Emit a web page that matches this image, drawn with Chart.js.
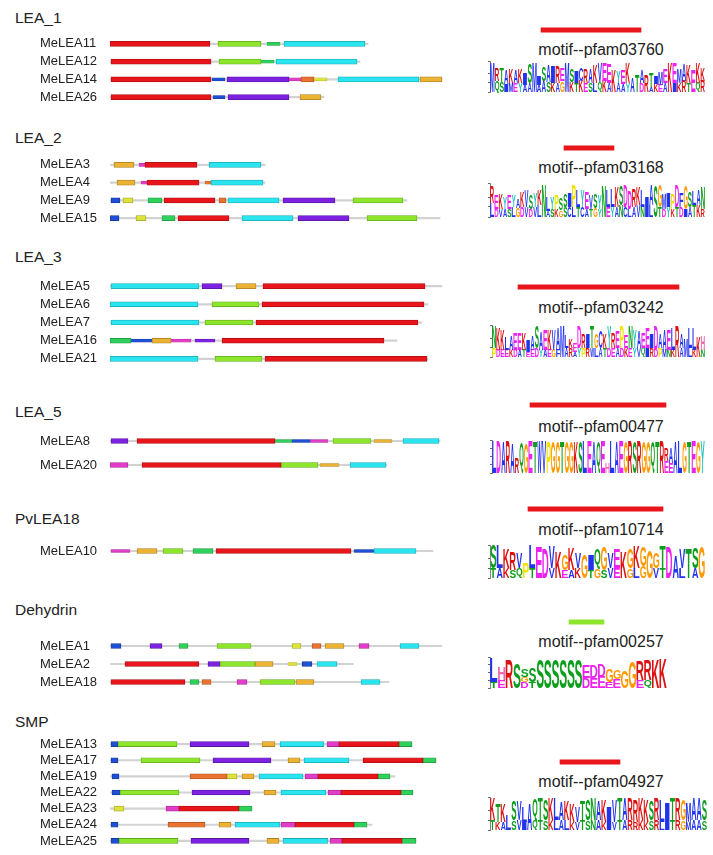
<!DOCTYPE html>
<html>
<head>
<meta charset="utf-8">
<script src="https://cdn.jsdelivr.net/npm/chart.js@4.4.0/dist/chart.umd.min.js"></script>
<style>
  body { margin: 0; background: #fff; }
  #page { position: relative; width: 713px; height: 855px; overflow: hidden; font-family: Arial, "Liberation Sans", sans-serif; }
  canvas { position: absolute; }
  .head { position: absolute; left: 15px; font-size: 15.5px; line-height: 20px; color: #222; }
  .motif { position: absolute; left: 470px; width: 262px; text-align: center; font-size: 16px; line-height: 20px; color: #222; }
</style>
</head>
<body>
<div id="page"></div>
<script>
// Domain colours (MEME motif colours in the gene diagrams)
const domainColors = {
  R: '#e8151b', L: '#8ee62c', C: '#2ae5ef', P: '#7c22e0', B: '#1e4fd4',
  O: '#ecb233', M: '#e23dc7', G: '#2fd15c', Y: '#dde23c', N: '#ea7330'
};
const domainEdges = {
  R: '#a80f12', L: '#5fa81c', C: '#1aa8b0', P: '#55179e', B: '#143894',
  O: '#a87f22', M: '#a12a8e', G: '#20963f', Y: '#9ea328', N: '#a85222'
};

// Amino-acid colours used in the logos
const aaColors = {
  A: '#2233ee', C: '#2233ee', F: '#2233ee', I: '#2233ee', L: '#2233ee', M: '#2233ee', V: '#2233ee', W: '#2233ee',
  N: '#0c9e1c', Q: '#0c9e1c', S: '#0c9e1c', T: '#0c9e1c',
  D: '#ee22ee', E: '#ee22ee', K: '#dd1111', R: '#dd1111',
  H: '#f06ab0', G: '#ff9900', P: '#f2e200', Y: '#20c0c0'
};

// ---- gene groups (x in residue units from N-terminus) ----
// motif key in upper case = strong hit, lower case = weak (partial) hit
const groupNames = ['LEA_1', 'LEA_2', 'LEA_3', 'LEA_5', 'PvLEA18', 'Dehydrin', 'SMP'];

const lea1Genes = ['MeLEA11', 'MeLEA12', 'MeLEA14', 'MeLEA26'];
const lea1Lengths = [258, 250, 332, 214];
const lea1Domains = [
  [[0, 100, 'R'], [108, 151, 'L'], [157, 170, 'g'], [174, 255, 'C']],
  [[1, 101, 'R'], [109, 151, 'L'], [151, 164, 'g'], [166, 247, 'C']],
  [[1, 101, 'R'], [102, 115, 'b'], [117, 179, 'P'], [179, 191, 'm'], [191, 204, 'N'], [204, 217, 'y'], [228, 309, 'C'], [310, 332, 'O']],
  [[1, 101, 'R'], [103, 115, 'b'], [118, 179, 'P'], [190, 211, 'O']]
];

const lea2Genes = ['MeLEA3', 'MeLEA4', 'MeLEA9', 'MeLEA15'];
const lea2Lengths = [155, 155, 297, 330];
const lea2Domains = [
  [[4, 24, 'O'], [29, 35, 'm'], [35, 87, 'R'], [99, 151, 'C']],
  [[7, 25, 'O'], [31, 37, 'm'], [37, 89, 'R'], [95, 101, 'n'], [101, 153, 'C']],
  [[1, 10, 'B'], [13, 23, 'Y'], [38, 52, 'G'], [54, 105, 'R'], [109, 116, 'N'], [118, 169, 'C'], [173, 225, 'P'], [243, 293, 'L']],
  [[0, 9, 'B'], [26, 36, 'Y'], [52, 65, 'G'], [68, 119, 'R'], [132, 183, 'C'], [188, 239, 'P'], [257, 307, 'L']]
];

const lea3Genes = ['MeLEA5', 'MeLEA6', 'MeLEA7', 'MeLEA16', 'MeLEA21'];
const lea3Lengths = [332, 318, 312, 287, 318];
const lea3Domains = [
  [[1, 89, 'C'], [92, 112, 'P'], [126, 146, 'O'], [153, 315, 'R']],
  [[0, 88, 'C'], [0, 20, 'm'], [102, 149, 'L'], [152, 314, 'R']],
  [[1, 89, 'C'], [95, 143, 'L'], [146, 308, 'R']],
  [[0, 21, 'G'], [21, 42, 'b'], [42, 61, 'O'], [61, 81, 'm'], [85, 105, 'p'], [112, 274, 'R']],
  [[0, 88, 'C'], [105, 152, 'L'], [155, 317, 'R']]
];

const lea5Genes = ['MeLEA8', 'MeLEA20'];
const lea5Lengths = [330, 277];
const lea5Domains = [
  [[1, 18, 'P'], [27, 165, 'R'], [165, 182, 'g'], [182, 200, 'b'], [200, 218, 'm'], [223, 261, 'L'], [264, 282, 'o'], [293, 329, 'C']],
  [[0, 18, 'M'], [32, 171, 'R'], [171, 208, 'L'], [210, 229, 'o'], [240, 276, 'C']]
];

const pvGenes = ['MeLEA10'];
const pvLengths = [323];
const pvDomains = [
  [[1, 20, 'm'], [27, 47, 'O'], [53, 73, 'L'], [83, 103, 'G'], [106, 241, 'R'], [244, 264, 'b'], [264, 306, 'C']]
];

const dehGenes = ['MeLEA1', 'MeLEA2', 'MeLEA18'];
const dehLengths = [332, 243, 279];
const dehDomains = [
  [[1, 11, 'B'], [40, 52, 'P'], [69, 78, 'G'], [107, 141, 'L'], [182, 191, 'Y'], [202, 211, 'N'], [215, 234, 'O'], [249, 259, 'M'], [290, 309, 'C']],
  [[15, 89, 'R'], [98, 110, 'P'], [110, 145, 'L'], [145, 163, 'O'], [178, 187, 'y'], [192, 202, 'B'], [207, 227, 'C']],
  [[1, 75, 'R'], [80, 89, 'G'], [92, 101, 'N'], [127, 137, 'M'], [150, 185, 'L'], [186, 204, 'O'], [251, 270, 'C']]
];

const smpGenes = ['MeLEA13', 'MeLEA17', 'MeLEA19', 'MeLEA22', 'MeLEA23', 'MeLEA24', 'MeLEA25'];
const smpLengths = [302, 326, 285, 303, 142, 262, 306];
const smpDomains = [
  [[1, 8, 'B'], [8, 67, 'L'], [80, 139, 'P'], [152, 165, 'O'], [170, 214, 'C'], [217, 229, 'M'], [229, 289, 'R'], [289, 302, 'G']],
  [[1, 8, 'B'], [31, 90, 'L'], [103, 161, 'P'], [178, 190, 'O'], [194, 239, 'C'], [253, 313, 'R'], [313, 326, 'G']],
  [[2, 9, 'B'], [80, 117, 'N'], [117, 127, 'Y'], [132, 144, 'O'], [149, 193, 'C'], [195, 208, 'M'], [208, 268, 'R'], [268, 280, 'G']],
  [[2, 10, 'B'], [10, 69, 'L'], [82, 140, 'P'], [154, 166, 'O'], [171, 216, 'C'], [218, 231, 'M'], [231, 291, 'R'], [291, 303, 'G']],
  [[4, 14, 'Y'], [56, 69, 'M'], [69, 129, 'R'], [129, 142, 'G']],
  [[1, 8, 'B'], [58, 95, 'N'], [109, 121, 'O'], [125, 170, 'C'], [171, 185, 'M'], [185, 244, 'R'], [244, 257, 'G']],
  [[1, 9, 'B'], [9, 68, 'L'], [81, 139, 'P'], [157, 169, 'O'], [173, 218, 'C'], [220, 232, 'M'], [232, 292, 'R'], [292, 306, 'G']]
];

// ---- motif panels ----
const motifNames = ['motif--pfam03760', 'motif--pfam03168', 'motif--pfam03242', 'motif--pfam00477',
                    'motif--pfam10714', 'motif--pfam00257', 'motif--pfam04927'];
const motifBarStart = [71, 94, 48, 60, 58, 99, 90];
const motifBarEnd = [171, 144, 209, 196, 193, 134, 150];
const motifBarColor = ['R', 'R', 'R', 'R', 'R', 'L', 'R'];

// logo columns: letters bottom->top with height in bits
const logo1Cols = ['M3.3', 'Q1.2 R1.4', 'S1.1 T1.5', 'I0.9 A1.6', 'M1 K1.5', 'E1 A1.4', 'Y1 K1.5', 'A0.8 I1.2', 'A1 S2.2', 'M3.2',
  'A0.8 I1', 'A1.2 S1.6', 'S1.1 A1.8', 'K1 I1.8', 'A1 R1.8', 'G1.2 E1.4', 'M3.3', 'K1.1 S1.4', 'T1 I1.2', 'K1.2 C1.4',
  'E1 R1.6', 'S1 A1.5', 'L1 K2', 'Q1.1 V2.1', 'K1.2 E2', 'A1 E2.1', 'K2.4', 'A1 Y1.3', 'A0.9 E1.6', 'Y1 K2.2',
  'A1.6', 'T1.8', 'D1 A1.4', 'R1.8', 'A0.6 T1.6', 'K0.9 I0.8', 'E0.8 M1.4', 'A1 E1.6', 'K3.2', 'I1 E2.2',
  'K1 M1.6', 'R1.2 A1.8', 'T1 K2', 'E2.4', 'Q1 K2.2', 'R1.2 K1.4'];
const logo2Cols = ['L1.4 R1.6', 'D0.8 E1.4', 'V0.8 K1.5', 'A0.8 Y1.2', 'S0.8 E1.4', 'L1 Y1.1', 'G0.9 A0.9', 'D1 K1.5', 'V1 V1.6', 'D0.8 S1.5',
  'V1 Y1.4', 'L1.2 K1.6', 'N3.2', 'A0.6 L1.4', 'S0.8 Y1.2', 'K0.8 P1.4', 'G0.7 S1.2', 'S1 S1.3', 'C1 I1.4', 'L1 P2.2',
  'T1 L1.7', 'C1 Y1.6', 'A0.8 E1.6', 'T0.8 V1.4', 'G0.9 S1.5', 'Y0.8 Y1.4', 'N3.1', 'E1 L1.6', 'Y1 L1.8', 'A1 K2',
  'N1.2 S2', 'C1 D2.2', 'L0.8 D1.8', 'A1 R1.8', 'V1.2 K1.8', 'N1 L1.6', 'I2', 'L1.2 A2', 'S3.2', 'T1 G2.2',
  'D0.8 M1.6', 'Y1 I1.4', 'K0.8 P1.6', 'T1 D2.2', 'D1 F1.4', 'I0.8 G2.4', 'A1 S1.6', 'T1.2 L1.4', 'K1.2 A1.6', 'R0.8 N2.2'];
const logo3Cols = ['P1 N2.4', 'D0.8 K2.4', 'E0.8 K2.2', 'E0.8 L1.4', 'K0.8 A1.6', 'D0.8 E1.8', 'A0.8 E1.8', 'T0.8 K1.8', 'E0.6 I1.2', 'E0.8 A1.6',
  'D0.9 S2.4', 'Y0.8 A2', 'A0.8 E2.2', 'E0.8 K2.2', 'G0.8 V2.2', 'F0.8 A2.4', 'M3.4', 'A1 L1.4', 'R1 K1', 'A0.6 E1',
  'Y1 D2.4', 'P1 R1.5', 'R1 I1.6', 'W1 T2.4', 'L1 G1.6', 'A1 C1.8', 'T1 K1.6', 'D1 Y2.4', 'E1 R1.6', 'A1 E1.8',
  'D1 P2.4', 'K1 E1.4', 'E1 N2.4', 'Y1 Y2', 'V1 A1.8', 'Q1 E1.6', 'I1 E2.2', 'R1 I1.6', 'D0.8 D2.6', 'P1 A1.6',
  'M0.8 A2.2', 'N0.8 E2.2', 'K0.8 L2.4', 'R3.3', 'A1 A1.6', 'M2', 'L1 L2.2', 'K0.8 L2.4', 'K2.2', 'N0.8 H1.6'];
const logo4Cols = ['L3.9', 'D3.9', 'A3.8', 'R3.8', 'A3.6', 'R1.8', 'Q3.6', 'G3.6', 'E3.8', 'T3.8',
  'W3.9', 'V3.8', 'P3.8', 'G3.8', 'G3.8', 'T3.8', 'G3.8', 'G3.8', 'K3.8', 'S3.8',
  'L3.8', 'E3.8', 'A3.8', 'Q3.8', 'E3.8', 'H1.2', 'L3.8', 'A3.8', 'E3.8', 'G3.8',
  'R3.8', 'S3.8', 'R3.8', 'G3.8', 'G3.8', 'Q3.8', 'T3.8', 'R3.8', 'E1.4 R1.6', 'E1.2 A1.8',
  'A3.8', 'L3.8', 'G3.8', 'T3.8', 'E3.8', 'G3.8', 'Y3.8'];
const logo5Cols = ['T1 S2.4', 'A1 L2.4', 'K1 K2', 'S0.8 R1.8', 'Q1 V1.6', 'P1.6', 'T1 L2.4', 'E3.2', 'D3', 'V1 V2.2',
  'K2.6', 'E0.8 G1.6', 'A0.8 K2.2', 'K1 V1.6', 'G2.4', 'T0.8 I1.6', 'G1 Q2', 'S0.8 G2.4', 'V1 V1.6', 'E1 E2',
  'K2.6', 'G1 G2', 'L1 K2.2', 'G1.2 G2', 'G2.8', 'V1 G1.6', 'T1 T2.2', 'D3.2', 'A2.2', 'L1 V2',
  'T3', 'A1 S2.2', 'G3.2'];
const logo6Cols = ['T0.8 L3.1', 'E1 H1.6', 'R3.6', 'S3.2', 'D0.8 G0.6 S1', 'T0.8 S1.8', 'S3.8', 'S3.8', 'S3.8', 'S3.8',
  'S3.8', 'S3.8', 'D1.3 E1.6', 'E1.3 D1.6', 'E1.4 D1.6', 'E0.8 G1.6', 'E1.2 G1.2', 'G2.2', 'G3.4', 'E1 R2.4',
  'Q1 R2.6', 'K3.6', 'K3.8'];
const logo7Cols = ['T1 K2.2', 'K0.8 T1.8', 'A0.8 K1.8', 'L1.6', 'S1 S2', 'V1 V2', 'I0.8 L1.6', 'A2.6', 'Q1 Q2.2', 'T1 T2.2',
  'S1 S2.2', 'K1 K2.2', 'L1 L2.2', 'A1 A1.8', 'L1 K2', 'K0.8 K1.8', 'V0.8 V1.6', 'T1 T2', 'S1 S2.2', 'N1 N2.2',
  'A1 A2', 'K0.8 K2.2', 'I0.8 I1.6', 'V0.8 V2.2', 'T1 T2.2', 'A1 A2.2', 'R1 R2.2', 'R0.8 R2.2', 'K1 K2.2', 'K0.8 K2.2',
  'S1 S2', 'R1 R2.2', 'L0.8 L2.2', 'I0.8 I2', 'T1 T2.2', 'R1 R2.2', 'G1 G2.2', 'M0.8 M2', 'A1 A2.2', 'A1 A2.2', 'S1 S2.2'];
const logoCols = [logo1Cols, logo2Cols, logo3Cols, logo4Cols, logo5Cols, logo6Cols, logo7Cols];
const logoMaxBits = [3.4, 3.4, 3.5, 4.0, 3.4, 4.0, 3.4];

// ---- page layout ----
const page = document.getElementById('page');

function addCanvas(left, top, width, height) {
  const c = document.createElement('canvas');
  c.width = width; c.height = height;
  c.style.left = left + 'px'; c.style.top = top + 'px';
  c.style.width = width + 'px'; c.style.height = height + 'px';
  page.appendChild(c);
  return c;
}

function addText(cls, text, top) {
  const d = document.createElement('div');
  d.className = cls;
  d.textContent = text;
  d.style.top = top + 'px';
  page.appendChild(d);
}

// gene diagram for one group: floating bars on a category axis of gene names
function createGeneChart(top, rowStep, genes, lengths, domains) {
  const pad = 8;
  const canvas = addCanvas(0, Math.round(top - rowStep / 2 - pad), 443, Math.round(genes.length * rowStep + 2 * pad));
  const datasets = [{
    label: 'protein',
    data: genes.map((g, i) => ({ y: g, x: [0, lengths[i]] })),
    backgroundColor: '#d2d2d2',
    barThickness: 1.5,
    order: 5
  }];
  Object.keys(domainColors).forEach(K => {
    [K, K.toLowerCase()].forEach(k => {
      const pts = [];
      domains.forEach((row, i) => row.forEach(d => {
        if (d[2] === k) pts.push({ y: genes[i], x: [d[0], d[1]] });
      }));
      if (!pts.length) return;
      const weak = k !== K;
      datasets.push({
        label: k,
        data: pts,
        backgroundColor: domainColors[K],
        borderColor: domainEdges[K],
        borderWidth: weak ? 0.5 : 0.8,
        borderSkipped: false,
        barThickness: weak ? 3 : 5,
        order: weak ? 2 : 1
      });
    });
  });
  return new Chart(canvas, {
    type: 'bar',
    data: { labels: genes, datasets },
    options: {
      indexAxis: 'y',
      responsive: false,
      animation: false,
      datasets: { bar: { grouped: false } },
      layout: { padding: { left: 40, right: 0, top: pad, bottom: pad } },
      plugins: { legend: { display: false }, tooltip: { enabled: false } },
      scales: {
        x: { type: 'linear', min: 0, max: 333, display: false },
        y: {
          type: 'category',
          grid: { display: false },
          border: { display: false },
          ticks: { crossAlign: 'far', autoSkip: false, padding: 0, color: '#222', font: { family: 'Arial', size: 13 } },
          afterFit: (s) => { s.width = 70; }
        }
      }
    }
  });
}

// small coloured bar above each motif label
function createMotifBar(top, i) {
  const canvas = addCanvas(470, top - 5, 243, 10);
  return new Chart(canvas, {
    type: 'bar',
    data: {
      labels: [motifNames[i]],
      datasets: [{
        data: [[motifBarStart[i], motifBarEnd[i]]],
        backgroundColor: domainColors[motifBarColor[i]],
        barThickness: 4.5
      }]
    },
    options: {
      indexAxis: 'y',
      responsive: false,
      animation: false,
      plugins: { legend: { display: false }, tooltip: { enabled: false } },
      scales: { x: { type: 'linear', min: 0, max: 243, display: false }, y: { display: false } }
    }
  });
}

function drawLetter(ctx, ch, x, y, w, h, color) {
  if (h < 0.6 || w < 0.5) return;
  ctx.save();
  ctx.font = 'bold 100px Arial';
  ctx.textAlign = 'left';
  ctx.textBaseline = 'alphabetic';
  const m = ctx.measureText(ch);
  const gw = m.actualBoundingBoxLeft + m.actualBoundingBoxRight;
  const gh = m.actualBoundingBoxAscent + m.actualBoundingBoxDescent;
  ctx.translate(x, y);
  ctx.scale(w / gw, h / gh);
  ctx.fillStyle = color;
  ctx.fillText(ch, m.actualBoundingBoxLeft, m.actualBoundingBoxAscent);
  ctx.restore();
}

// draws the sequence logo letters from the columns, through the chart scales
const logoPlugin = {
  id: 'logo',
  afterDatasetsDraw(chart, args, opts) {
    const { ctx, scales: { x, y } } = chart;
    opts.cols.forEach((col, i) => {
      const x0 = x.getPixelForValue(i - 0.5) + 0.2;
      const x1 = x.getPixelForValue(i + 0.5) - 0.2;
      let base = 0;
      col.split(' ').forEach(tok => {
        const ch = tok[0];
        const h = parseFloat(tok.slice(1));
        const yb = y.getPixelForValue(base);
        const yt = y.getPixelForValue(base + h);
        drawLetter(ctx, ch, x0, yt, x1 - x0, yb - yt, aaColors[ch] || '#333');
        base += h;
      });
    });
  }
};

function createLogo(top, bottom, left, right, i) {
  const cols = logoCols[i];
  const canvas = addCanvas(470, top - 2, 243, bottom - top + 8);
  return new Chart(canvas, {
    type: 'scatter',
    data: { datasets: [{ data: [] }] },
    options: {
      responsive: false,
      animation: false,
      layout: { padding: { left: 0, right: 713 - right, top: 2, bottom: 6 } },
      plugins: { legend: { display: false }, tooltip: { enabled: false }, logo: { cols } },
      scales: {
        x: { type: 'linear', min: -0.5, max: cols.length - 0.5, offset: false, display: false },
        y: {
          type: 'linear',
          min: 0, max: logoMaxBits[i],
          offset: false,
          ticks: { display: false, stepSize: 1 },
          grid: { drawOnChartArea: false, tickLength: 2, color: '#666' },
          border: { color: '#666', width: 0.8 },
          afterFit: (s) => { s.width = left - 470; }
        }
      }
    },
    plugins: [logoPlugin]
  });
}

// headings
const headTops = [18, 138, 257, 412, 519, 610, 722];
groupNames.forEach((g, i) => addText('head', g, headTops[i] - 10));

// gene diagrams: first row centre, row step
createGeneChart(44, 17.7, lea1Genes, lea1Lengths, lea1Domains);
createGeneChart(165, 17.7, lea2Genes, lea2Lengths, lea2Domains);
createGeneChart(286, 18.25, lea3Genes, lea3Lengths, lea3Domains);
createGeneChart(441, 24, lea5Genes, lea5Lengths, lea5Domains);
createGeneChart(551, 20, pvGenes, pvLengths, pvDomains);
createGeneChart(646, 18, dehGenes, dehLengths, dehDomains);
createGeneChart(744, 16.17, smpGenes, smpLengths, smpDomains);

// motif panels: bar centre, label centre, logo box
const barTops = [30, 148, 287, 405, 509, 622, 762];
const labelTops = [50, 168, 308, 427, 530, 642, 782];
const logoBoxes = [[61, 92, 490, 705], [183, 217, 490, 705], [325, 357, 492, 705], [440, 473, 492, 705],
                   [545, 578, 490, 705], [657, 688, 490, 667], [797, 830, 490, 707]];
motifNames.forEach((m, i) => {
  createMotifBar(barTops[i], i);
  addText('motif', m, labelTops[i] - 10);
  const b = logoBoxes[i];
  createLogo(b[0], b[1], b[2], b[3], i);
});
</script>
</body>
</html>
